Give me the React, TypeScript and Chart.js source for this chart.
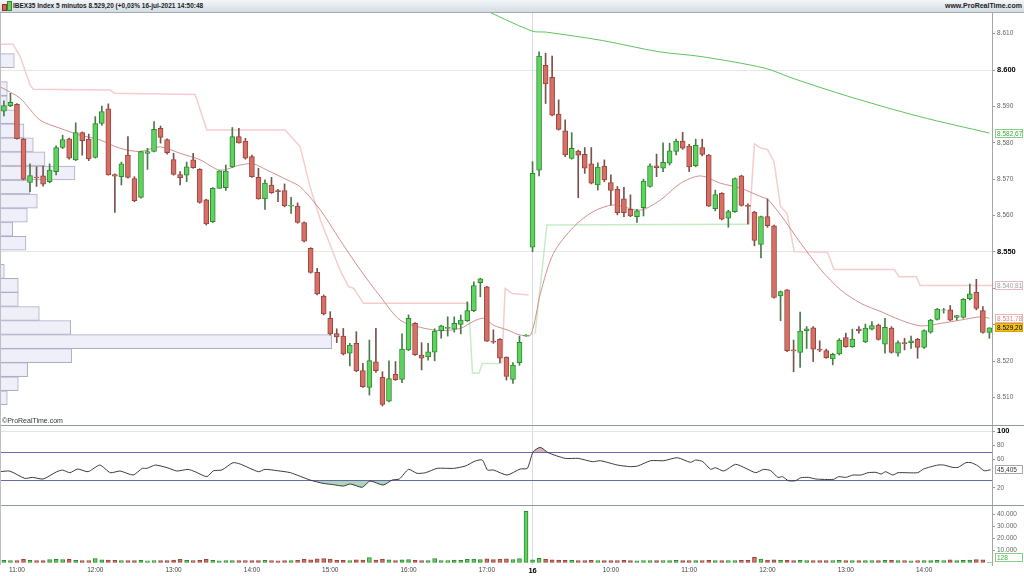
import React, { useEffect, useRef } from 'react';
import { Chart, registerables } from 'chart.js';

Chart.register(...registerables);

const FONT = '"Liberation Sans", Arial, Helvetica, sans-serif';

// ---- candles (5 min bars, 15-jul 10:50 .. 16-jul 14:50) ----
const opens = [
  8588.7, 8590.2, 8590.6, 8581.0, 8569.1, 8570.6, 8570.9, 8569.3, 8572.1, 8578.7,
  8581.1, 8575.3, 8582.8, 8581.0, 8576.0, 8585.3, 8589.3, 8571.3, 8570.7, 8576.6,
  8570.2, 8565.0, 8577.1, 8577.6, 8584.0, 8580.9, 8575.4, 8571.3, 8571.1, 8575.3,
  8572.7, 8564.3, 8558.3, 8567.5, 8567.7, 8573.4, 8581.7, 8580.5, 8576.2, 8570.5,
  8564.6, 8568.4, 8566.9, 8566.9, 8562.6, 8562.6, 8558.1, 8551.0, 8544.4, 8537.9,
  8531.8, 8527.6, 8526.9, 8522.2, 8524.9, 8517.4, 8512.8, 8519.8, 8515.6, 8509.0,
  8516.4, 8515.0, 8523.1, 8530.4, 8521.7, 8521.2, 8522.5, 8528.4, 8529.0, 8528.8,
  8530.1, 8531.1, 8533.9, 8541.6, 8540.4, 8525.5, 8526.0, 8521.1, 8515.0, 8519.6,
  8527.0, 8551.3, 8572.5, 8601.3, 8598.0, 8587.9, 8583.3, 8575.7, 8577.7, 8576.8,
  8574.2, 8568.4, 8573.6, 8569.1, 8567.2, 8564.6, 8561.7, 8559.7, 8562.2, 8568.0,
  8573.7, 8573.0, 8574.4, 8577.6, 8580.5, 8579.1, 8573.7, 8578.7, 8576.6, 8561.9,
  8566.1, 8559.3, 8561.1, 8570.9, 8562.8, 8561.0, 8552.1, 8559.7, 8557.2, 8537.9,
  8539.6, 8523.1, 8522.4, 8528.4, 8529.2, 8523.3, 8522.9, 8520.6, 8522.0, 8526.5,
  8524.0, 8528.8, 8525.3, 8528.8, 8529.9, 8524.7, 8529.1, 8522.2, 8525.1, 8525.1,
  8526.0, 8523.8, 8528.0, 8531.5, 8534.0, 8534.1, 8532.0, 8532.0, 8537.2, 8538.9,
  8533.9, 8527.9,
];
const highs = [
  8591.5, 8593.6, 8590.8, 8581.2, 8574.2, 8573.4, 8573.6, 8574.2, 8579.2, 8582.1,
  8581.3, 8585.5, 8583.0, 8582.4, 8587.2, 8590.1, 8590.7, 8571.5, 8574.7, 8581.7,
  8570.7, 8577.7, 8578.5, 8585.8, 8584.6, 8581.1, 8577.1, 8572.1, 8574.7, 8577.1,
  8572.9, 8564.5, 8567.7, 8572.3, 8573.9, 8584.2, 8584.0, 8581.2, 8576.6, 8573.0,
  8569.8, 8570.5, 8567.2, 8568.7, 8565.0, 8563.5, 8558.3, 8551.2, 8545.5, 8538.2,
  8533.6, 8528.9, 8529.0, 8524.9, 8528.1, 8519.4, 8525.8, 8529.0, 8517.1, 8520.1,
  8519.9, 8527.5, 8532.7, 8530.6, 8525.1, 8524.9, 8528.9, 8529.9, 8532.2, 8532.2,
  8532.7, 8536.3, 8541.8, 8542.8, 8540.6, 8528.6, 8526.2, 8521.2, 8519.6, 8526.9,
  8527.3, 8574.8, 8605.0, 8604.6, 8603.8, 8591.8, 8586.3, 8582.8, 8578.0, 8578.7,
  8578.7, 8574.5, 8575.3, 8571.2, 8568.0, 8567.8, 8565.7, 8561.7, 8570.0, 8574.2,
  8576.9, 8580.0, 8579.9, 8581.0, 8582.9, 8579.6, 8581.0, 8581.0, 8576.8, 8567.0,
  8566.3, 8561.5, 8570.4, 8571.1, 8563.2, 8561.2, 8559.9, 8564.6, 8557.4, 8539.3,
  8539.7, 8525.8, 8533.5, 8529.5, 8529.5, 8525.6, 8523.3, 8522.2, 8526.2, 8527.7,
  8528.8, 8529.5, 8530.2, 8530.9, 8530.2, 8531.8, 8529.5, 8525.6, 8526.3, 8526.9,
  8526.3, 8528.6, 8531.5, 8534.5, 8534.5, 8535.3, 8532.6, 8537.2, 8541.2, 8542.5,
  8535.0, 8529.2,
];
const lows = [
  8587.4, 8589.9, 8581.0, 8569.8, 8566.6, 8568.0, 8568.1, 8569.0, 8571.2, 8578.4,
  8575.5, 8575.1, 8576.6, 8575.1, 8575.8, 8584.8, 8571.1, 8560.9, 8568.4, 8570.3,
  8563.8, 8564.8, 8572.7, 8577.5, 8579.9, 8576.9, 8571.1, 8568.4, 8569.3, 8573.0,
  8563.4, 8557.4, 8558.1, 8567.5, 8566.9, 8573.2, 8579.9, 8575.5, 8570.5, 8564.5,
  8561.7, 8566.1, 8563.8, 8562.4, 8560.6, 8557.9, 8552.8, 8544.2, 8538.2, 8532.7,
  8527.2, 8525.1, 8521.7, 8518.7, 8517.1, 8512.8, 8510.7, 8516.9, 8507.7, 8508.8,
  8514.7, 8514.1, 8522.9, 8521.6, 8517.6, 8520.3, 8520.1, 8526.3, 8526.9, 8528.0,
  8527.5, 8530.9, 8533.6, 8537.7, 8525.4, 8524.9, 8519.6, 8514.8, 8513.9, 8518.9,
  8526.9, 8550.1, 8570.9, 8590.8, 8587.4, 8583.5, 8576.2, 8575.5, 8564.9, 8571.6,
  8568.7, 8567.0, 8569.3, 8562.9, 8560.2, 8559.7, 8559.7, 8558.1, 8559.9, 8567.8,
  8570.7, 8572.1, 8573.9, 8576.7, 8578.2, 8572.1, 8573.4, 8576.4, 8562.5, 8561.3,
  8558.8, 8556.8, 8560.9, 8562.6, 8557.7, 8551.7, 8548.4, 8556.8, 8537.3, 8531.1,
  8522.6, 8517.1, 8518.3, 8523.5, 8519.9, 8522.6, 8520.8, 8519.0, 8521.7, 8523.8,
  8523.8, 8527.7, 8525.1, 8528.6, 8525.8, 8522.2, 8522.2, 8521.4, 8523.1, 8523.5,
  8520.8, 8523.5, 8527.7, 8531.3, 8533.2, 8531.1, 8531.3, 8531.8, 8536.8, 8534.1,
  8527.7, 8526.3,
];
const closes = [
  8590.2, 8591.1, 8581.1, 8570.0, 8571.0, 8570.4, 8568.6, 8572.5, 8578.7, 8580.9,
  8575.8, 8582.8, 8580.6, 8575.6, 8585.3, 8588.6, 8571.2, 8570.8, 8574.2, 8570.5,
  8564.1, 8577.6, 8577.6, 8583.7, 8581.5, 8577.3, 8571.3, 8570.4, 8573.4, 8573.2,
  8563.6, 8557.7, 8567.5, 8572.3, 8572.2, 8581.7, 8580.0, 8575.8, 8570.7, 8564.6,
  8568.9, 8566.3, 8566.6, 8562.7, 8562.9, 8558.1, 8553.0, 8544.4, 8538.5, 8533.0,
  8527.5, 8526.7, 8522.0, 8524.4, 8517.3, 8513.0, 8520.2, 8517.4, 8508.1, 8515.2,
  8514.9, 8523.3, 8531.8, 8521.8, 8520.8, 8522.6, 8528.3, 8529.7, 8529.3, 8530.4,
  8531.3, 8533.9, 8540.8, 8542.6, 8525.5, 8525.2, 8520.8, 8515.8, 8518.9, 8525.2,
  8527.2, 8571.6, 8603.8, 8596.2, 8587.6, 8583.7, 8576.7, 8578.5, 8576.6, 8573.0,
  8568.9, 8573.3, 8569.8, 8566.9, 8560.8, 8560.8, 8559.9, 8561.3, 8569.5, 8573.7,
  8573.2, 8574.6, 8577.8, 8580.5, 8578.5, 8573.4, 8579.3, 8576.8, 8562.6, 8565.8,
  8559.0, 8561.1, 8570.2, 8562.8, 8562.5, 8553.2, 8559.7, 8557.2, 8537.5, 8539.1,
  8522.9, 8522.8, 8528.3, 8528.9, 8523.3, 8523.0, 8521.0, 8521.9, 8525.8, 8524.0,
  8526.1, 8528.4, 8529.1, 8529.8, 8526.0, 8529.3, 8522.4, 8525.1, 8524.8, 8525.6,
  8523.8, 8528.4, 8531.3, 8534.3, 8534.1, 8531.3, 8532.5, 8537.0, 8538.5, 8534.5,
  8527.9, 8529.2,
];
const volumes = [
  1800, 1500, 1600, 2600, 1900, 1500, 1700, 2400, 2700, 2500,
  2600, 1900, 1700, 1500, 3300, 2200, 2000, 1800, 1500, 1600,
  1700, 1900, 1400, 1500, 1600, 1700, 2100, 2700, 1800, 1500,
  1900, 2600, 1800, 1400, 1500, 1700, 1600, 1500, 1700, 1600,
  1800, 1500, 1400, 1600, 1500, 1800, 2600, 2300, 3000, 3200,
  2800, 1800, 1900, 1500, 2300, 2100, 4200, 2000, 2700, 2300,
  1700, 2200, 2400, 1900, 1500, 1600, 3300, 1700, 1500, 2100,
  1800, 2600, 2900, 2500, 3000, 2400, 2700, 3100, 2500, 3200,
  42700, 2300, 3400, 2600, 2200, 2100, 1900, 1800, 1700, 1600,
  1800, 1500, 1700, 1600, 1500, 1800, 1600, 1400, 1500, 1700,
  1600, 1500, 1700, 1800, 1600, 1500, 1700, 1600, 1900, 1500,
  1600, 1500, 1700, 1800, 1900, 4300, 2800, 2000, 2200, 1800,
  1900, 1700, 1800, 1600, 1500, 1700, 1600, 1500, 1800, 1600,
  1500, 1700, 1600, 1500, 1700, 1800, 1900, 1600, 1500, 1400,
  1500, 1600, 1700, 1800, 1500, 2200, 1600, 1900, 2100, 2400,
  2200, 128,
];

// ---- axis ticks ----
const xTickIndex = [2, 14, 26, 38, 50, 62, 74, 81, 93, 105, 117, 129, 141];
const xTickLabels = ['11:00', '12:00', '13:00', '14:00', '15:00', '16:00', '17:00', '16', '10:00', '11:00', '12:00', '13:00', '14:00'];
const dayBreakIndex = 81;
const priceTicks = [8510, 8520, 8530, 8540, 8550, 8560, 8570, 8580, 8590, 8600, 8610];
const priceGridLevels = [8550, 8600];
const rsiTicks = [20, 30, 60, 70, 80, 100];
const rsiBands = [30, 70];
const volumeTicks = [10000, 20000, 30000, 40000];

// ---- indicators: [bar index, value] ----
const maPoints = [
  [-0.6, 8595.4], [2.5, 8592.2], [5.5, 8586.3], [8.6, 8584.0], [11.7, 8582.1], [14.7, 8580.8],
  [17.8, 8578.5], [20.9, 8577.6], [23.9, 8578.9], [27.0, 8577.1], [30.1, 8575.3], [33.1, 8572.5],
  [36.2, 8573.9], [38.2, 8574.2], [40.3, 8572.5], [43.4, 8569.8], [45.4, 8567.9], [48.5, 8561.5],
  [51.5, 8553.3], [54.6, 8545.1], [57.7, 8537.7], [60.7, 8531.3], [63.8, 8529.3], [66.9, 8528.4],
  [69.9, 8529.0], [71.9, 8530.9], [73.5, 8531.8], [75.0, 8529.9], [77.1, 8528.6], [79.1, 8527.2],
  [80.7, 8527.2], [82.2, 8538.6], [84.2, 8549.6], [87.3, 8556.9], [90.3, 8561.1], [93.4, 8562.9],
  [97.5, 8561.5], [100.6, 8564.3], [103.7, 8568.9], [106.7, 8570.9], [109.8, 8568.9], [112.9, 8567.5],
  [116.0, 8565.2], [117.0, 8564.5], [119.0, 8560.2], [122.1, 8552.4], [125.2, 8545.1], [128.2, 8539.6],
  [131.3, 8535.9], [134.4, 8533.6], [137.4, 8531.3], [140.5, 8529.7], [143.6, 8530.4], [146.6, 8531.3],
  [149.7, 8532.2], [151.0, 8531.78],
];
const longMaPoints = [
  [72.5, 8617.5], [80.9, 8610.7], [83.1, 8610.4], [91.7, 8608.1], [100.4, 8605.0], [106.8, 8603.7],
  [116.6, 8600.5], [120.9, 8597.7], [129.5, 8592.7], [140.3, 8587.2], [151.0, 8582.67],
];
const stopDownPoints = [
  [-0.6, 8607.1], [1.4, 8607.1], [2.5, 8603.7], [4.0, 8595.9], [4.5, 8594.7], [16.3, 8594.5],
  [17.0, 8593.6], [29.3, 8593.3], [31.1, 8583.5], [43.1, 8583.5], [45.4, 8578.9], [46.9, 8567.9],
  [48.5, 8558.8], [50.5, 8549.6], [51.5, 8545.0], [52.8, 8540.5], [53.6, 8540.0], [55.1, 8535.9],
  [71.2, 8535.9], [71.3, null],
  [76.3, 8519.4], [76.8, 8540.0], [77.9, 8538.6], [80.4, 8538.2], [80.5, null],
  [114.2, 8557.6], [115.0, 8579.7], [116.0, 8578.5], [117.0, 8578.2], [118.0, 8574.8], [119.0, 8562.5],
  [120.0, 8560.6], [121.1, 8550.1], [126.2, 8549.9], [127.2, 8545.2], [136.4, 8545.2], [137.2, 8543.2],
  [139.8, 8543.2], [140.4, 8540.81], [151.4, 8540.81],
];
const stopUpPoints = [
  [71.2, 8535.9], [71.8, 8516.7], [72.8, 8516.7], [73.3, 8519.4], [76.3, 8519.4], [76.4, null],
  [81.4, 8527.6], [83.2, 8557.4], [114.2, 8557.6],
];
const rsiPoints = [
  [-0.6, 42.7], [0.9, 43.6], [3.2, 33.3], [4.4, 34.7], [6.0, 32.4], [8.1, 42.7], [9.0, 45.0], [10.1, 41.3],
  [11.3, 46.5], [12.9, 42.7], [14.7, 52.1], [16.3, 41.3], [17.8, 43.7], [19.8, 38.0], [21.2, 47.4], [21.9, 47.4],
  [23.2, 52.1], [25.0, 48.4], [26.5, 43.7], [28.2, 46.0], [29.3, 42.7], [31.1, 35.7], [32.1, 44.1], [33.4, 45.1],
  [35.1, 55.4], [36.2, 53.5], [39.0, 42.7], [40.0, 46.0], [41.9, 44.1], [43.9, 41.3], [46.9, 31.0], [48.9, 26.3],
  [50.5, 24.4], [52.0, 22.5], [53.1, 25.4], [54.9, 20.7], [56.1, 29.6], [58.1, 23.9], [59.5, 31.0], [60.6, 32.5],
  [62.0, 46.0], [63.3, 40.4], [64.6, 41.3], [66.4, 47.4], [68.9, 47.4], [70.7, 50.7], [72.2, 57.7], [73.3, 59.2],
  [74.1, 45.1], [75.0, 45.1], [77.1, 38.0], [79.1, 46.5], [80.2, 47.4], [81.1, 70.9], [82.2, 77.0], [83.4, 69.5],
  [86.0, 61.5], [88.0, 61.5], [90.2, 56.8], [91.4, 58.2], [94.0, 52.1], [96.0, 49.8], [97.1, 50.7], [99.1, 58.2],
  [101.1, 58.2], [103.2, 62.4], [105.2, 55.9], [106.0, 59.2], [107.1, 56.8], [108.3, 46.0], [109.0, 48.4],
  [110.3, 43.7], [112.1, 53.1], [113.7, 47.4], [115.2, 41.3], [116.4, 46.0], [117.5, 44.1], [118.6, 34.7],
  [119.3, 35.7], [120.2, 30.0], [121.3, 30.0], [122.1, 34.2], [123.3, 34.7], [124.4, 32.4], [127.1, 31.9],
  [127.9, 35.7], [129.0, 34.7], [130.1, 38.0], [131.3, 38.0], [132.4, 41.3], [133.6, 41.8], [134.4, 39.4],
  [135.1, 42.7], [136.2, 38.0], [137.0, 41.3], [140.0, 41.3], [140.9, 46.5], [143.1, 52.1], [144.0, 52.1],
  [145.4, 48.8], [146.2, 48.8], [147.4, 55.4], [148.2, 55.4], [149.2, 51.2], [150.2, 44.1], [151.2, 45.405],
];

// ---- volume-at-price profile ----
const profilePrices = [
  8509.95, 8513.81, 8517.67, 8521.53, 8525.39, 8529.25, 8533.11, 8536.97, 8540.83, 8544.69,
  8552.41, 8556.27, 8560.13, 8563.99, 8567.85, 8571.71, 8575.57, 8579.43, 8583.29, 8587.15,
  8591.01, 8594.87, 8602.59,
];
const profileVolumes = [
  730, 1830, 2770, 7170, 33170, 7070, 3930, 1830, 1830, 430,
  2600, 1270, 2730, 3730, 3000, 7500, 4500, 3330, 2400, 1830,
  730, 730, 1430,
];

const fmtNum = (v: number, dec = 0) => {
  const s = v.toFixed(dec);
  const parts = s.split('.');
  const intF = parts[0].replace(/\B(?=(\d{3})+(?!\d))/g, '.');
  return parts[1] ? intF + ',' + parts[1] : intF;
};

const toXY = (pts: any[]) => pts.map((p) => ({ x: p[0], y: p[1] }));

export default function App() {
  const ref = useRef<HTMLCanvasElement | null>(null);

  useEffect(() => {
    if (!ref.current) return;
    const up = closes.map((c, i) => c >= opens[i]);
    const bodyFill = up.map((u) => (u ? '#5fd35f' : '#d66f66'));
    const bodyBorder = up.map((u) => (u ? '#2f8a2f' : '#98463e'));
    const wickColor = up.map((u) => (u ? '#4a7a4a' : '#7a524a'));

    const lastClose = closes[closes.length - 1];
    const lastMa = maPoints[maPoints.length - 1][1] as number;
    const lastLong = longMaPoints[longMaPoints.length - 1][1] as number;
    const lastStop = stopDownPoints[stopDownPoints.length - 1][1] as number;
    const lastRsi = rsiPoints[rsiPoints.length - 1][1] as number;
    const lastVol = volumes[volumes.length - 1];

    const panelPlugin = {
      id: 'panelDecor',
      afterDraw(chart: any) {
        const { ctx, chartArea, scales } = chart;
        ctx.save();
        ctx.lineWidth = 1;
        ctx.strokeStyle = '#8f99a5';
        [scales.y.bottom, scales.yr.bottom].forEach((yy: number) => {
          const py = Math.round(yy) + 0.5;
          ctx.beginPath();
          ctx.moveTo(0, py);
          ctx.lineTo(chart.width, py);
          ctx.stroke();
        });
        ctx.strokeStyle = '#b9c0c8';
        ctx.beginPath();
        ctx.moveTo(0.5, chartArea.top);
        ctx.lineTo(0.5, chartArea.bottom);
        ctx.stroke();

        const box = (scale: any, value: number, text: string, fg: string, bg: string, border: string) => {
          let y = scale.getPixelForValue(value);
          y = Math.min(y, scale.bottom - 7.5);
          const x = Math.round(chartArea.right) + 3;
          const top = Math.round(y - 4.5);
          ctx.fillStyle = bg;
          ctx.fillRect(x, top, 28, 9);
          ctx.strokeStyle = border;
          ctx.strokeRect(x + 0.5, top + 0.5, 27, 8);
          ctx.fillStyle = fg;
          ctx.font = `6.5px ${FONT}`;
          ctx.textBaseline = 'middle';
          ctx.textAlign = 'left';
          ctx.fillText(text, x + 2, top + 5);
        };
        box(scales.y, lastLong, fmtNum(lastLong, 2), '#3fae3f', '#ffffff', '#86d086');
        box(scales.y, lastStop, fmtNum(lastStop, 2), '#a0a0a0', '#ffffff', '#e6b9b9');
        box(scales.y, lastMa, fmtNum(lastMa, 2), '#d08a8a', '#ffffff', '#e8b5b5');
        box(scales.y, lastClose, fmtNum(lastClose, 2), '#000000', '#f3c21c', '#d6a300');
        box(scales.yr, lastRsi, lastRsi.toFixed(3).replace('.', ','), '#333333', '#ffffff', '#a8a8a8');
        box(scales.yv, lastVol, fmtNum(lastVol), '#3fae3f', '#ffffff', '#86d086');
        ctx.restore();
      },
    };

    const yAfterFit = (s: any) => {
      s.width = 32;
      s.paddingTop = 0;
      s.paddingBottom = 0;
    };
    const tickFont = (bold: boolean) => ({ family: FONT, size: bold ? 7.5 : 6.5, weight: bold ? 'bold' : 'normal' });

    const chart = new Chart(ref.current, {
      type: 'line',
      data: {
        datasets: [
          {
            type: 'bar', label: 'body',
            data: opens.map((o, i) => ({ x: i, y: [o, closes[i]] })) as any,
            backgroundColor: bodyFill, borderColor: bodyBorder, borderWidth: 1, borderSkipped: false,
            barThickness: 5, grouped: false, xAxisID: 'x', yAxisID: 'y', order: 1,
          } as any,
          {
            type: 'bar', label: 'wick',
            data: lows.map((l, i) => ({ x: i, y: [l, highs[i]] })) as any,
            backgroundColor: wickColor, borderWidth: 0, barThickness: 1, grouped: false,
            xAxisID: 'x', yAxisID: 'y', order: 2,
          } as any,
          {
            type: 'line', label: 'ma', data: toXY(maPoints) as any, borderColor: '#d0908f', borderWidth: 1,
            pointRadius: 0, fill: false, tension: 0.3, xAxisID: 'x', yAxisID: 'y', order: 3,
          } as any,
          {
            type: 'line', label: 'longma', data: toXY(longMaPoints) as any, borderColor: '#5cc45c', borderWidth: 1,
            pointRadius: 0, fill: false, tension: 0.3, xAxisID: 'x', yAxisID: 'y', order: 3,
          } as any,
          {
            type: 'line', label: 'stopDown', data: toXY(stopDownPoints) as any, borderColor: '#f6cccc', borderWidth: 1.5,
            pointRadius: 0, fill: false, spanGaps: false, xAxisID: 'x', yAxisID: 'y', order: 4,
          } as any,
          {
            type: 'line', label: 'stopUp', data: toXY(stopUpPoints) as any, borderColor: '#c6ecc6', borderWidth: 1.5,
            pointRadius: 0, fill: false, spanGaps: false, xAxisID: 'x', yAxisID: 'y', order: 4,
          } as any,
          {
            type: 'bar', label: 'profile', indexAxis: 'y',
            data: profilePrices.map((p, i) => ({ y: p, x: profileVolumes[i] })) as any,
            backgroundColor: 'rgba(238,238,249,0.95)', borderColor: '#aeaec6', borderWidth: 1, borderSkipped: false,
            barThickness: 14, grouped: false, xAxisID: 'xp', yAxisID: 'y', order: 10,
          } as any,
          {
            type: 'bar', label: 'volume', data: volumes.map((v, i) => ({ x: i, y: v })) as any,
            backgroundColor: bodyFill, borderColor: bodyBorder, borderWidth: 1, borderSkipped: false,
            barThickness: 4, grouped: false, xAxisID: 'x', yAxisID: 'yv', order: 1,
          } as any,
          {
            type: 'line', label: 'rsi', data: toXY(rsiPoints) as any, borderColor: '#3a3a3a', borderWidth: 1,
            pointRadius: 0, tension: 0.2,
            fill: { target: { value: rsiBands[0] }, above: 'rgba(0,0,0,0)', below: 'rgba(120,185,140,0.6)' },
            xAxisID: 'x', yAxisID: 'yr', order: 1,
          } as any,
          {
            type: 'line', label: 'rsiHigh', data: toXY(rsiPoints) as any, borderColor: 'rgba(0,0,0,0)', borderWidth: 0,
            pointRadius: 0, tension: 0.2,
            fill: { target: { value: rsiBands[1] }, above: 'rgba(200,140,150,0.65)', below: 'rgba(0,0,0,0)' },
            xAxisID: 'x', yAxisID: 'yr', order: 2,
          } as any,
        ],
      },
      options: {
        animation: false,
        responsive: false,
        maintainAspectRatio: false,
        devicePixelRatio: 1,
        layout: { padding: 0 },
        events: [],
        plugins: { legend: { display: false }, tooltip: { enabled: false } },
        scales: {
          x: {
            type: 'linear', position: 'bottom', min: -0.6, max: 151.4, offset: false,
            afterBuildTicks: (s: any) => { s.ticks = xTickIndex.map((v) => ({ value: v })); },
            afterFit: (s: any) => { s.height = 11; s.paddingLeft = 0; s.paddingRight = 0; },
            ticks: {
              autoSkip: false, maxRotation: 0, minRotation: 0, padding: 1,
              color: (c: any) => (c.tick && c.tick.value === dayBreakIndex ? '#000' : '#444'),
              font: (c: any) => tickFont(!!(c.tick && c.tick.value === dayBreakIndex)),
              callback: (v: any) => { const k = xTickIndex.indexOf(v); return k >= 0 ? xTickLabels[k] : ''; },
            },
            grid: {
              offset: false,
              drawTicks: false,
              color: (c: any) => (c.tick && c.tick.value === dayBreakIndex ? '#dcdcdc' : 'rgba(0,0,0,0)'),
            },
            border: { display: false },
          },
          xp: { type: 'linear', axis: 'x', position: 'bottom', display: false, offset: false, min: 0, max: 99200 },
          y: {
            type: 'linear', position: 'right', stack: 'panels', stackWeight: 412, offset: false,
            min: 8502.47, max: 8615.66,
            afterBuildTicks: (s: any) => { s.ticks = priceTicks.map((v) => ({ value: v })); },
            afterFit: yAfterFit,
            ticks: {
              autoSkip: false, padding: 2,
              color: (c: any) => (c.tick && priceGridLevels.includes(c.tick.value) ? '#000' : '#666'),
              font: (c: any) => tickFont(!!(c.tick && priceGridLevels.includes(c.tick.value))),
              callback: (v: any) => fmtNum(Number(v)),
            },
            grid: {
              offset: false,
              color: (c: any) => (c.tick && priceGridLevels.includes(c.tick.value) ? '#e6e6e6' : 'rgba(0,0,0,0)'),
              tickColor: '#999', tickLength: 3, drawTicks: true,
            },
            border: { display: true, color: '#a6a6a6' },
          },
          yr: {
            type: 'linear', axis: 'y', position: 'right', stack: 'panels', stackWeight: 80, offset: false,
            min: -4.2, max: 108.5,
            afterBuildTicks: (s: any) => { s.ticks = rsiTicks.map((v) => ({ value: v })); },
            afterFit: yAfterFit,
            ticks: {
              autoSkip: false, padding: 2,
              color: (c: any) => (c.tick && c.tick.value === 100 ? '#000' : '#666'),
              font: (c: any) => tickFont(!!(c.tick && c.tick.value === 100)),
              callback: (v: any) => (rsiBands.includes(Number(v)) ? '' : String(v)),
            },
            grid: {
              offset: false,
              color: (c: any) => {
                const v = c.tick && c.tick.value;
                if (rsiBands.includes(v)) return '#6464ab';
                if (v === 100) return '#e3e3e3';
                return 'rgba(0,0,0,0)';
              },
              tickColor: (c: any) => (c.tick && rsiBands.includes(c.tick.value) ? 'rgba(0,0,0,0)' : '#999'),
              tickLength: 3,
            },
            border: { display: true, color: '#a6a6a6' },
          },
          yv: {
            type: 'linear', axis: 'y', position: 'right', stack: 'panels', stackWeight: 60, offset: false,
            min: -2080, max: 47900,
            afterBuildTicks: (s: any) => { s.ticks = volumeTicks.map((v) => ({ value: v })); },
            afterFit: yAfterFit,
            ticks: {
              autoSkip: false, padding: 2, color: '#666', font: tickFont(false),
              callback: (v: any) => fmtNum(Number(v)),
            },
            grid: { offset: false, color: 'rgba(0,0,0,0)', tickColor: '#999', tickLength: 3 },
            border: { display: true, color: '#a6a6a6' },
          },
        } as any,
      },
      plugins: [panelPlugin as any],
    } as any);
    return () => chart.destroy();
  }, []);

  return (
    <div style={{ position: 'absolute', left: 0, top: 0, width: 1024, height: 576, background: '#fff', overflow: 'hidden' }}>
      <div
        style={{
          position: 'absolute', left: 0, top: 0, width: 1024, height: 12,
          background: 'linear-gradient(#f3f6f9, #d5dce4)', borderBottom: '1px solid #a2abb5',
        }}
      >
        <span style={{ position: 'absolute', left: 2, top: 4, width: 3, height: 5, background: '#d9605a', border: '1px solid #8c3028' }} />
        <span style={{ position: 'absolute', left: 7, top: 1, width: 3, height: 8, background: '#5fd35f', border: '1px solid #2f8a2f' }} />
        <span
          style={{
            position: 'absolute', left: 13, top: 0, lineHeight: '12px', fontFamily: FONT, fontSize: 6.5,
            fontWeight: 'bold', color: '#1c1c1c', whiteSpace: 'nowrap',
          }}
        >
          IBEX35 Index 5 minutos 8.529,20 (+0,03% 16-jul-2021 14:50:48
        </span>
        <span
          style={{
            position: 'absolute', right: 2, top: 0, lineHeight: '12px', fontFamily: FONT, fontSize: 7,
            fontWeight: 'bold', color: '#1c1c1c', whiteSpace: 'nowrap',
          }}
        >
          www.ProRealTime.com
        </span>
      </div>
      <canvas ref={ref} width={1024} height={563} style={{ position: 'absolute', left: 0, top: 13, display: 'block' }} />
      <div
        style={{
          position: 'absolute', left: 2, top: 416, fontFamily: FONT, fontSize: 7, color: '#333',
          lineHeight: '9px', whiteSpace: 'nowrap',
        }}
      >
        ©ProRealTime.com
      </div>
    </div>
  );
}
